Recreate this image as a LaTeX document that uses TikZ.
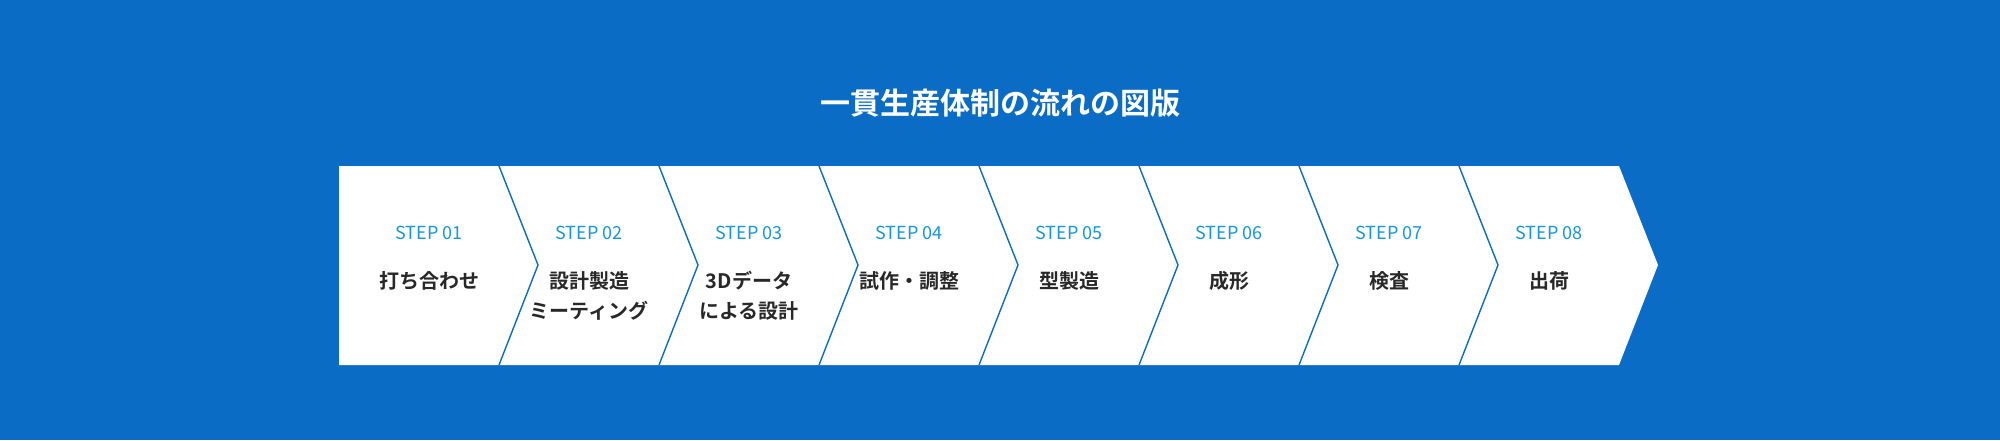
\documentclass[tikz,border=0pt]{standalone}
\usepackage{fontspec}
\newfontfamily\jpfont{Noto Sans CJK JP}[BoldFont={Noto Sans CJK JP Bold}]
\definecolor{bgblue}{RGB}{10,108,196}
\definecolor{stepblue}{RGB}{20,150,230}
\definecolor{bodytext}{RGB}{40,40,40}
\tikzset{
  steplabel/.style={text=stepblue, font=\jpfont\fontsize{9}{10}\selectfont},
  bodylabel/.style={text=bodytext, font=\jpfont\bfseries\fontsize{10}{15}\selectfont, align=center},
  divider/.style={draw=bgblue, line width=0.7pt}
}
\begin{document}
\begin{tikzpicture}[x=0.5pt,y=-0.5pt]
% background
\fill[bgblue] (0,0) rectangle (2000,440);
\useasboundingbox (0,0) rectangle (2000,440);
% title
\node[text=white, font=\jpfont\bfseries\fontsize{15}{18}\selectfont] (title) at (1000,103) {一貫生産体制の流れの図版};
% white band with arrow head
\fill[white] (339,166) -- (1619,166) -- (1658,265) -- (1619,365) -- (339,365) -- cycle;
% chevron dividers
\foreach \i in {1,...,7}{
  \draw[divider] ({339+160*\i},166) -- ({378+160*\i},265) -- ({339+160*\i},365);
}
% steps
\foreach \i/\txt [count=\n] in {01/打ち合わせ, 02/{設計製造\\ミーティング}, 03/{3Dデータ\\による設計}, 04/試作・調整, 05/型製造, 06/成形, 07/検査, 08/出荷}{
  \node[steplabel] (step\n) at ({419+160*(\n-1)+10},233) {STEP \i};
  \node[bodylabel, anchor=north] (body\n) at ({419+160*(\n-1)+10},264) {\txt};
}
\end{tikzpicture}
\end{document}
